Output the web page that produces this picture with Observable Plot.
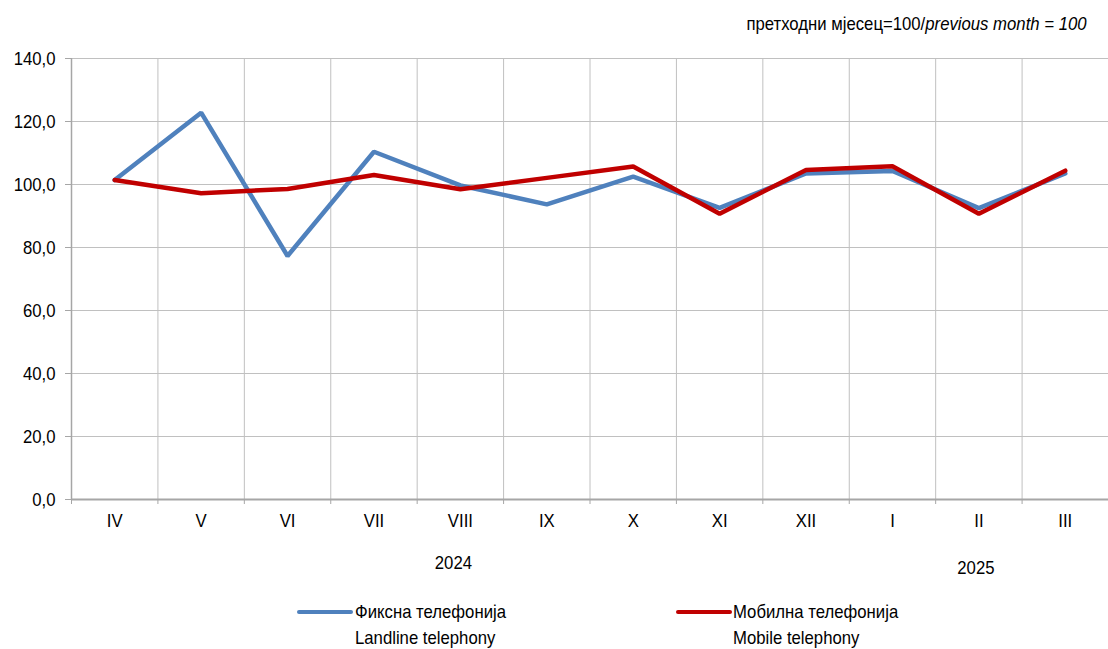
<!DOCTYPE html>
<html><head><meta charset="utf-8">
<script src="https://cdn.jsdelivr.net/npm/d3@7"></script>
<script src="https://cdn.jsdelivr.net/npm/@observablehq/plot@0.6"></script>
<style>
body{margin:0;background:#fff;}
#wrap{position:relative;width:1108px;height:649px;overflow:hidden;font-family:"Liberation Sans",Arial,sans-serif;color:#000;}
#chart{position:absolute;left:0;top:0;}
#note{position:absolute;right:21px;top:13px;font-size:19px;white-space:nowrap;transform:scaleX(0.88);transform-origin:right center;}
.leg{position:absolute;font-size:19px;line-height:26px;white-space:nowrap;transform:scaleX(0.88);transform-origin:left center;}
.sw{position:absolute;height:4px;border-radius:2px;}
</style></head><body>
<div id="wrap">
  <div id="chart"></div>
  <div id="note">претходни мјесец=100/<i>previous month = 100</i></div>
  <div class="sw" style="left:297px;top:610px;width:56px;background:#4f81bd"></div>
  <div class="leg" style="left:355px;top:599px">Фиксна телефонија<br>Landline telephony</div>
  <div class="sw" style="left:676px;top:610px;width:56px;background:#c00000"></div>
  <div class="leg" style="left:733px;top:599px">Мобилна телефонија<br>Mobile telephony</div>
</div>
<script>
const months = ["IV","V","VI","VII","VIII","IX","X","XI","XII","I","II","III"];
const monthYear = ["2024","2024","2024","2024","2024","2024","2024","2024","2024","2025","2025","2025"];
const landline = [101.4,122.8,77.3,110.4,99.7,93.7,102.5,92.6,103.5,104.3,92.5,103.5];
const mobile = [101.4,97.2,98.6,103.0,98.5,102.1,105.7,90.7,104.6,105.8,90.7,104.4];
const yTicks = [0,20,40,60,80,100,120,140];

const landData = months.map((m,i)=>({i, v:landline[i]}));
const mobData = months.map((m,i)=>({i, v:mobile[i]}));
const idx = d3.range(months.length);
const bounds = d3.range(months.length+1).map(k=>k-0.5);
const years = Array.from(d3.group(idx, i=>monthYear[i]), ([year, is])=>({year, c:d3.mean(is)}));

const font = '"Liberation Sans",Arial,sans-serif';
const chart = Plot.plot({
  width:1108, height:600,
  marginTop:58, marginBottom:101, marginLeft:71, marginRight:0,
  x:{type:"linear", domain:[bounds[0], bounds[bounds.length-1]]},
  y:{domain:[0,140]},
  style:{fontFamily:font, fontSize:"19px", background:"white", color:"#000", overflow:"visible"},
  marks:[
    Plot.gridY({ticks:yTicks, stroke:"#c0c0c0", strokeOpacity:1}),
    Plot.gridX({ticks:bounds.slice(1), stroke:"#c0c0c0", strokeOpacity:1}),
    Plot.axisY({ticks:yTicks, tickSize:6, tickPadding:10, stroke:"#a6a6a6", label:null, fontSize:19,
      tickFormat:d=>d.toFixed(1).replace(".",",")}),
    Plot.ruleX([bounds[0]], {stroke:"#a6a6a6", strokeWidth:1.5}),
    Plot.axisX({ticks:bounds, tickSize:5, stroke:"#a6a6a6", tickFormat:()=>"", label:null}),
    Plot.axisX({ticks:idx, tickSize:0, tickPadding:14, tickFormat:i=>months[i], label:null, fontSize:19}),
    Plot.ruleY([0], {stroke:"#a6a6a6", strokeWidth:2}),
    Plot.line(landData, {x:"i", y:"v", stroke:"#4f81bd", strokeWidth:4.5, strokeLinejoin:"miter"}),
    Plot.line(mobData, {x:"i", y:"v", stroke:"#c00000", strokeWidth:4.5, strokeLinejoin:"miter"}),
    Plot.text(years.filter(d=>d.year==="2024"), {x:"c", y:0, text:"year", dx:-7, dy:63, fontSize:19}),
    Plot.text(years.filter(d=>d.year==="2025"), {x:"c", y:0, text:"year", dx:-3, dy:68, fontSize:19})
  ]
});
document.getElementById("chart").appendChild(chart);
// condense glyphs to mimic the narrow typeface of the reference
chart.querySelectorAll("text").forEach(t=>{
  const len = t.getComputedTextLength();
  if (len > 0) { t.setAttribute("textLength", (len*0.88).toFixed(2)); t.setAttribute("lengthAdjust","spacingAndGlyphs"); }
});
</script>
</body></html>
